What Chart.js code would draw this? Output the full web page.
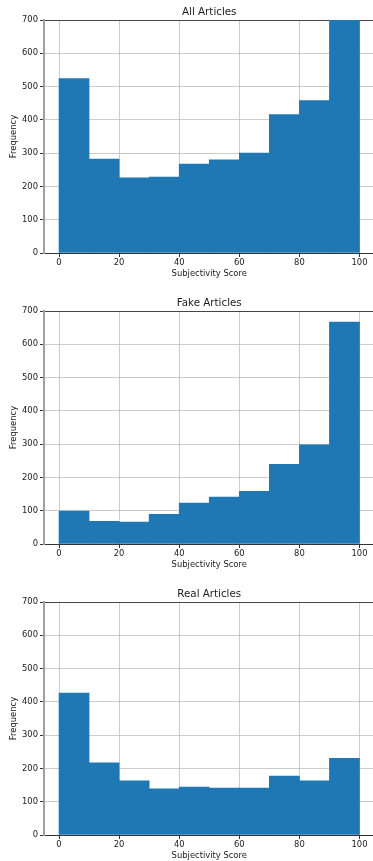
<!DOCTYPE html>
<html>
<head>
<meta charset="utf-8">
<script src="https://cdn.jsdelivr.net/npm/chart.js@4.4.0/dist/chart.umd.min.js"></script>
<style>
html, body { margin: 0; padding: 0; background: #fff; overflow: hidden; width: 373px; height: 861px; }
.wrap { position: absolute; left: 0; width: 376px; height: 291px; }
canvas { display: block; }
</style>
</head>
<body>
<div class="wrap" style="top:0px"><canvas id="c0" width="376" height="291"></canvas></div>
<div class="wrap" style="top:291px"><canvas id="c1" width="376" height="291"></canvas></div>
<div class="wrap" style="top:582px"><canvas id="c2" width="376" height="291"></canvas></div>
<script>
const binCenters = [5, 15, 25, 35, 45, 55, 65, 75, 85, 95];
const allArticles = [524, 282, 226, 228, 267, 280, 300, 416, 458, 897];
const fakeArticles = [99, 68, 66, 89, 123, 141, 158, 239, 298, 667];
const realArticles = [426, 217, 163, 139, 144, 141, 141, 177, 163, 230];
const xTicks = [0, 20, 40, 60, 80, 100];
const yTicks = [0, 100, 200, 300, 400, 500, 600, 700];
const titles = ['All Articles', 'Fake Articles', 'Real Articles'];
const seriesList = [allArticles, fakeArticles, realArticles];

const FONT = 'DejaVu Sans';
const barColor = '#1f77b4';
const gridColor = 'rgba(176,176,176,0.65)';
const textColor = '#1a1a1a';

function makeChart(id, title, values) {
  return new Chart(document.getElementById(id), {
    type: 'bar',
    data: {
      datasets: [{
        data: binCenters.map((x, i) => ({ x: x, y: values[i] })),
        backgroundColor: barColor,
        borderWidth: 0,
        barPercentage: 1.0,
        categoryPercentage: 1.0
      }]
    },
    options: {
      responsive: false,
      animation: false,
      layout: { padding: { left: 0, right: 1.5, top: 0, bottom: 0 } },
      plugins: {
        legend: { display: false },
        tooltip: { enabled: false },
        title: { display: false }
      },
      scales: {
        x: {
          type: 'linear',
          min: -5, max: 105,
          offset: false,
          z: 1,
          afterBuildTicks: (s) => { s.ticks = xTicks.map(v => ({ value: v })); },
          afterFit: (s) => { s.height = 38; },
          ticks: {
            color: textColor,
            font: { family: FONT, size: 8.4 },
            padding: 1,
            maxRotation: 0,
            autoSkip: false
          },
          grid: {
            color: gridColor,
            lineWidth: 1,
            offset: false,
            drawTicks: true,
            tickLength: 4,
            tickColor: '#333'
          },
          border: { display: true, color: '#333', width: 1 },
          title: {
            display: true,
            text: 'Subjectivity Score',
            color: textColor,
            font: { family: FONT, size: 8.4 },
            padding: { top: 0, bottom: 12 }
          }
        },
        x2: {
          type: 'linear',
          position: 'top',
          min: -5, max: 105,
          z: 2,
          afterFit: (s) => { s.height = 20; },
          ticks: { display: false },
          grid: { display: false, drawTicks: false },
          border: { display: true, color: '#444', width: 1 },
          title: {
            display: true,
            text: title,
            color: textColor,
            font: { family: FONT, size: 10.3, lineHeight: 1.2 },
            padding: { top: 6, bottom: 0 }
          }
        },
        y: {
          type: 'linear',
          min: 0, max: 700,
          z: 1,
          afterBuildTicks: (s) => { s.ticks = yTicks.map(v => ({ value: v })); },
          afterFit: (s) => { s.width = 44; },
          ticks: {
            color: textColor,
            font: { family: FONT, size: 8.4 },
            padding: 2
          },
          grid: {
            color: gridColor,
            lineWidth: 1,
            drawTicks: true,
            tickLength: 4,
            tickColor: '#333'
          },
          border: { display: true, color: '#a0a0a0', width: 2 },
          title: {
            display: true,
            text: 'Frequency',
            color: textColor,
            font: { family: FONT, size: 8.4 },
            padding: { top: 9, bottom: 0 }
          }
        }
      }
    }
  });
}

seriesList.forEach((vals, i) => makeChart('c' + i, titles[i], vals));
</script>
</body>
</html>
